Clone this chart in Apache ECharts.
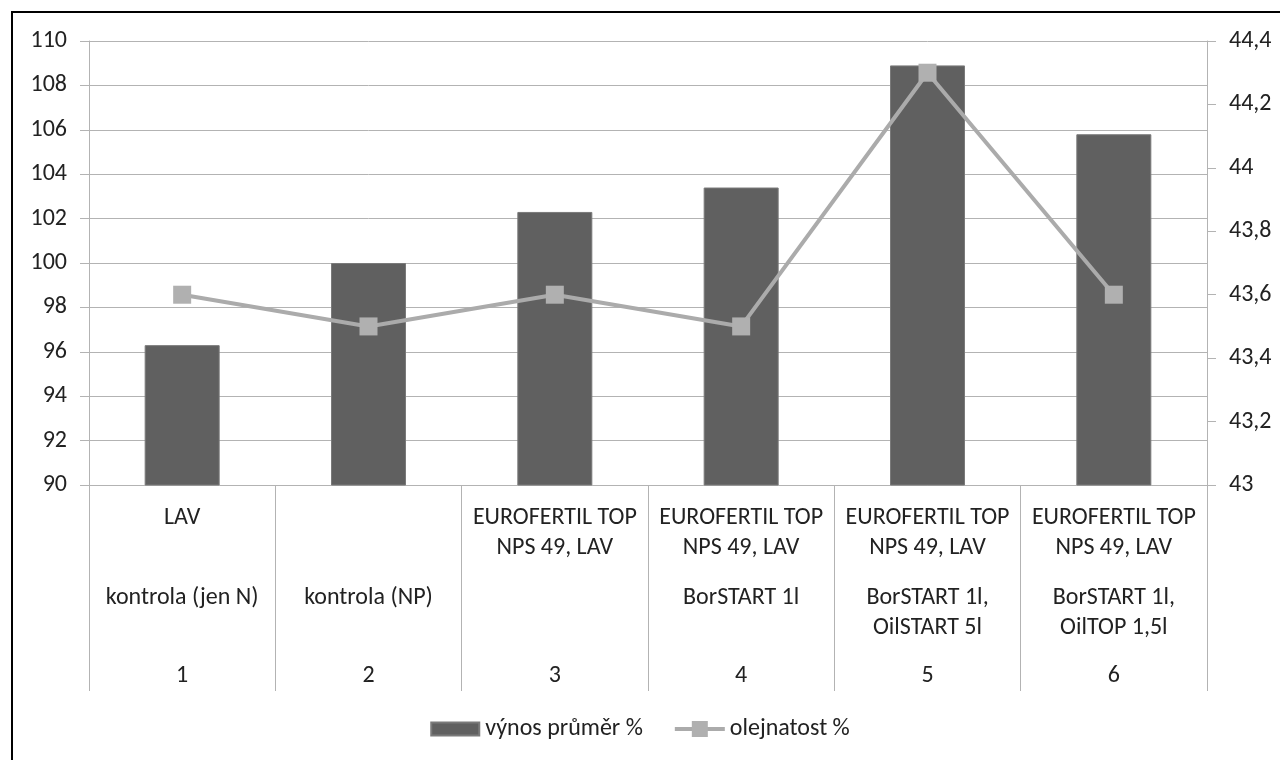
<!DOCTYPE html>
<html>
<head>
<meta charset="utf-8">
<script src="https://cdn.jsdelivr.net/npm/echarts@6/dist/echarts.min.js"></script>
<style>
html,body{margin:0;padding:0;background:#fff;}
#chart{width:1280px;height:760px;}
</style>
</head>
<body>
<div id="chart"></div>
<script>
var categories = ["1", "2", "3", "4", "5", "6"];
var labelRow1 = ["LAV", "", "EUROFERTIL TOP\nNPS 49, LAV", "EUROFERTIL TOP\nNPS 49, LAV", "EUROFERTIL TOP\nNPS 49, LAV", "EUROFERTIL TOP\nNPS 49, LAV"];
var labelRow2 = ["kontrola (jen N)", "kontrola (NP)", "", "BorSTART 1l", "BorSTART 1l,\nOilSTART 5l", "BorSTART 1l,\nOilTOP 1,5l"];
var vynos = [96.3, 100.0, 102.3, 103.4, 108.9, 105.8];
var olejnatost = [43.6, 43.5, 43.6, 43.5, 44.3, 43.6];
var seriesNames = ["výnos průměr %", "olejnatost %"];

var FONT = "Carlito, Lato, sans-serif";
var FS = 24;
var TXT = "#222222";
var GRIDC = "#b3b3b3";

function comma(v) {
  return String(Number(v.toFixed(1))).replace(".", ",");
}

function labelAxis(rowTexts, margin, showLine) {
  return {
    type: "category",
    gridIndex: 0,
    position: "bottom",
    data: categories,
    axisLine: { show: showLine, lineStyle: { color: GRIDC, width: 1 } },
    axisTick: showLine ? { show: true, interval: 0, length: 206, lineStyle: { color: GRIDC, width: 1 } } : { show: false },
    splitLine: { show: false },
    axisLabel: {
      interval: 0,
      margin: margin,
      fontFamily: FONT,
      fontSize: FS,
      color: TXT,
      lineHeight: 30,
      verticalAlign: "top",
      formatter: function (v, i) { return rowTexts ? rowTexts[i] : v; }
    }
  };
}

var chart = echarts.init(document.getElementById("chart"), null, { renderer: "canvas" });
chart.setOption({
  animation: false,
  backgroundColor: "#ffffff",
  graphic: [{
    type: "rect",
    shape: { x: 12, y: 12, width: 1300, height: 800 },
    style: { fill: "none", stroke: "#000000", lineWidth: 2 },
    silent: true
  }],
  grid: { left: 89, right: 73, top: 41, bottom: 275, containLabel: false },
  legend: {
    data: [
      { name: seriesNames[0], icon: "path://M0,0M48,20M0,3.5h48v13h-48z" },
      { name: seriesNames[1], lineStyle: { width: 4, color: "#ababab" } }
    ],
    top: 712,
    left: "center",
    itemWidth: 50,
    itemHeight: 20,
    itemGap: 30,
    textStyle: { fontFamily: FONT, fontSize: FS, color: TXT }
  },
  xAxis: [
    labelAxis(labelRow1, 18, true),
    labelAxis(labelRow2, 98, false),
    labelAxis(null, 176, false)
  ],
  yAxis: [
    {
      type: "value",
      min: 90, max: 110, interval: 2,
      position: "left",
      axisLine: { show: true, lineStyle: { color: GRIDC, width: 1 } },
      axisTick: { show: true, length: 9, lineStyle: { color: GRIDC } },
      splitLine: { show: true, lineStyle: { color: GRIDC, width: 1 } },
      axisLabel: { margin: 22, fontFamily: FONT, fontSize: FS, color: TXT }
    },
    {
      type: "value",
      min: 43, max: 44.4, interval: 0.2,
      position: "right",
      axisLine: { show: true, lineStyle: { color: GRIDC, width: 1 } },
      axisTick: { show: true, length: 9, lineStyle: { color: GRIDC } },
      splitLine: { show: false },
      axisLabel: { margin: 22, fontFamily: FONT, fontSize: FS, color: TXT, formatter: comma }
    }
  ],
  series: [
    {
      name: seriesNames[0],
      type: "bar",
      xAxisIndex: 0,
      yAxisIndex: 0,
      data: vynos,
      barWidth: 75,
      itemStyle: { color: "#606060", borderColor: "#7a7a7a", borderWidth: 1 }
    },
    {
      name: seriesNames[1],
      type: "line",
      xAxisIndex: 0,
      yAxisIndex: 1,
      data: olejnatost,
      symbol: "rect",
      symbolSize: 18,
      lineStyle: { color: "#ababab", width: 4 },
      itemStyle: { color: "#b0b0b0" },
      z: 5
    }
  ]
});
</script>
</body>
</html>
